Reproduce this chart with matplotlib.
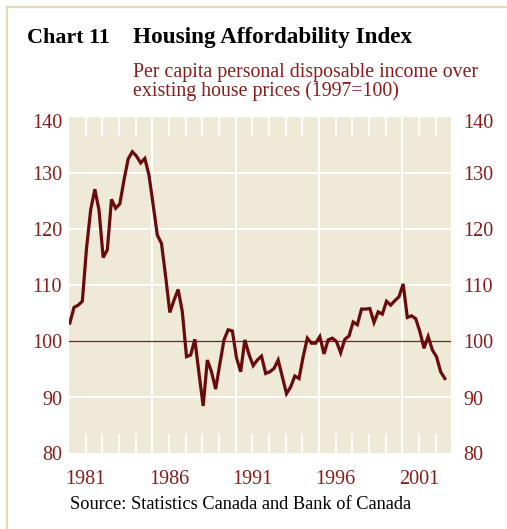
import matplotlib
matplotlib.use("Agg")
import matplotlib.pyplot as plt
import numpy as np
from matplotlib.lines import Line2D
from matplotlib.transforms import ScaledTranslation

# ---- data (quarterly, 1980Q1 - 2002Q3) ----
start_year = 1980
index_values = [
    103.2, 106.0, 106.4, 107.1, 116.5, 123.4, 127.1, 123.4,
    114.9, 116.3, 125.3, 123.7, 124.5, 128.75, 132.5, 133.8,
    133.0, 131.8, 132.6, 129.6, 124.3, 118.9, 117.4, 111.5,
    105.1, 107.3, 109.2, 105.2, 97.2, 97.5, 100.3, 94.2,
    88.4, 96.6, 94.5, 91.4, 95.9, 100.2, 102.0, 101.8,
    97.0, 94.5, 100.2, 97.6, 95.6, 96.6, 97.3, 94.2,
    94.5, 95.1, 96.6, 93.6, 90.6, 91.8, 93.75, 93.3,
    97.2, 100.5, 99.6, 99.6, 100.8, 97.7, 100.2, 100.5,
    99.9, 97.9, 100.3, 100.9, 103.4, 102.9, 105.7, 105.7,
    105.8, 103.3, 105.2, 104.8, 107.1, 106.4, 107.2, 107.9,
    110.2, 104.2, 104.5, 104.0, 101.7, 98.7, 100.8, 98.4,
    97.2, 94.5, 93.3,
]
year_labels = [1981, 1986, 1991, 1996, 2001]
y_ticks = [80, 90, 100, 110, 120, 130, 140]
divider_years = [1985, 1990, 1995, 2000]
base_value = 100

x = start_year + 0.05 + np.arange(len(index_values)) * 0.25

RED = "#8a1c1c"
LINE = "#6a0b0b"
BEIGE = "#efe9d7"
SERIF = "Liberation Serif"
TICKFS = 14.5

fig = plt.figure(figsize=(5.07, 5.29), dpi=100)
fig.patch.set_facecolor("white")
ax = fig.add_axes([69/507, 1-453/529, 382/507, 336/529])
ax.set_facecolor(BEIGE)
for s in ax.spines.values():
    s.set_visible(False)

ax.set_xlim(1980, 2002.92)
ax.set_ylim(80, 140)

# grid lines
for v in y_ticks[1:-1]:
    if v == base_value:
        continue
    ax.axhline(v, color="white", lw=1.4, zorder=1)
for yr in divider_years:
    ax.axvline(yr, color="white", lw=1.4, zorder=1)
ax.axhline(base_value, color="#7a2020", lw=0.9, zorder=1.5)

ax.plot(x, index_values, color=LINE, lw=2.3, zorder=3, solid_joinstyle="miter")

# x ticks
years = list(range(1981, 2003))
ax.set_xticks(years)
ax.set_xticklabels([str(y) if y in year_labels else "" for y in years],
                   fontfamily=SERIF, fontsize=TICKFS, color=RED)
ax.tick_params(axis="x", direction="in", length=13.7, width=1.3, color="white",
               top=True, bottom=True, labeltop=False, pad=12)

# y ticks both sides
ax.set_yticks(y_ticks)
ax.set_yticklabels([str(v) for v in y_ticks], fontfamily=SERIF, fontsize=TICKFS, color=RED)
ax.tick_params(axis="y", length=0, left=True, right=True, labelleft=True,
               labelright=True, pad=5)
for t in ax.yaxis.get_major_ticks():
    t.label1.set_va("center")
    t.label2.set_va("center")
    t.label2.set_fontfamily(SERIF)
    t.label2.set_fontsize(TICKFS)
    t.label2.set_color(RED)
    t.label2.set_transform(t.label2.get_transform() + ScaledTranslation(5/100, -3/100, fig.dpi_scale_trans))
    t.label1.set_transform(t.label1.get_transform() + ScaledTranslation(0, -3/100, fig.dpi_scale_trans))
top_tick = ax.yaxis.get_major_ticks()[-1]
for lab in (top_tick.label1, top_tick.label2):
    lab.set_transform(lab.get_transform() + ScaledTranslation(0, -4/100, fig.dpi_scale_trans))

# titles
fig.text(27/507, 1-43/529, "Chart 11", fontfamily=SERIF, fontweight="bold",
         fontsize=15.8, color="black", va="baseline", ha="left")
fig.text(133/507, 1-43/529, "Housing Affordability Index", fontfamily=SERIF,
         fontweight="bold", fontsize=16.7, color="black", va="baseline", ha="left")
fig.text(133/507, 1-96/529,
         "Per capita personal disposable income over\nexisting house prices (1997=100)",
         fontfamily=SERIF, fontsize=14.3, color=RED, va="baseline", ha="left",
         linespacing=0.97)
fig.text(70/507, 1-509/529, "Source: Statistics Canada and Bank of Canada",
         fontfamily=SERIF, fontsize=13.2, color="black", va="baseline", ha="left")

# frame lines
TAN = "#e4d9b3"
fig.add_artist(Line2D([7/507, 1], [1-7/529, 1-7/529], color=TAN, lw=1.6,
                      transform=fig.transFigure))
fig.add_artist(Line2D([7/507, 7/507], [0, 1-7/529], color=TAN, lw=1.6,
                      transform=fig.transFigure))

fig.savefig("out.png", dpi=100)
